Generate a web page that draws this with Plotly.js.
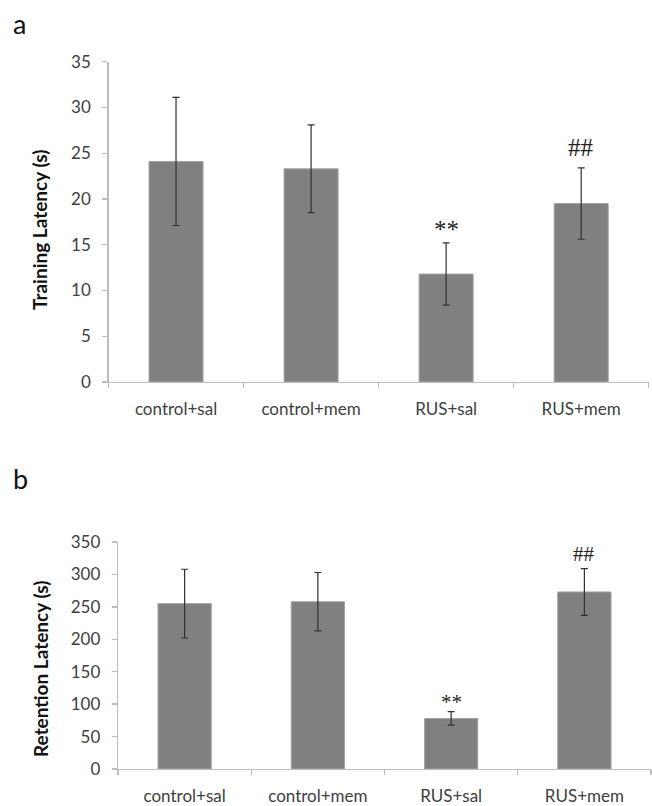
<!DOCTYPE html>
<html>
<head>
<meta charset="utf-8">
<script src="https://cdn.plot.ly/plotly-3.0.1.min.js"></script>
<style>html,body{margin:0;padding:0;background:#fff;}#chart{width:652px;height:806px;}</style>
</head>
<body>
<div id="chart"></div>
<script>
// ---- data ----
const categories = ['control+sal', 'control+mem', 'RUS+sal', 'RUS+mem'];
const trainingMean = [24.1, 23.3, 11.8, 19.5];
const trainingErr = [7.0, 4.8, 3.4, 3.9];
const retentionMean = [255, 258, 78, 273];
const retentionErr = [53, 45, 10.5, 36];
const trainingMarks = ['', '', '**', '##'];
const trainingMarkY = [null, null, 16.7, 25.6];
const retentionMarks = ['', '', '**', '##'];
const retentionMarkY = [null, null, 103, 331];
const trainingTicks = [0, 5, 10, 15, 20, 25, 30, 35];
const retentionTicks = [0, 50, 100, 150, 200, 250, 300, 350];

// ---- styling ----
const FONT = 'Lato, "Open Sans", sans-serif';
const barColor = '#808080';
const axisColor = '#bdbdbd';
const textColor = '#404040';

function barTrace(y, err, xa, ya) {
  return {
    type: 'bar', x: categories, y: y, xaxis: xa, yaxis: ya,
    marker: {color: barColor, line: {color: '#a5a5a5', width: 1}},
    error_y: {type: 'data', array: err, visible: true, color: '#303030', thickness: 1.2, width: 3.5},
    hoverinfo: 'skip', showlegend: false
  };
}

const data = [
  barTrace(trainingMean, trainingErr, 'x', 'y'),
  barTrace(retentionMean, retentionErr, 'x2', 'y2')
];

function xAxis(domain, anchor) {
  return {
    domain: domain, anchor: anchor, type: 'category', range: [-0.5, 3.5],
    showline: true, linecolor: axisColor, linewidth: 1.3,
    ticks: 'outside', tickson: 'boundaries', ticklen: 5, tickcolor: axisColor, tickwidth: 1.3,
    ticklabelstandoff: 11,
    tickfont: {family: FONT, size: 17, color: textColor},
    showgrid: false, zeroline: false, fixedrange: true
  };
}
function yAxis(domain, anchor, range, ticks) {
  return {
    domain: domain, anchor: anchor, range: range, tickmode: 'array', tickvals: ticks,
    showline: true, linecolor: axisColor, linewidth: 1.3,
    ticks: 'outside', ticklen: 5, tickcolor: axisColor, tickwidth: 1.3,
    ticklabelstandoff: 8,
    tickfont: {family: FONT, size: 17, color: textColor},
    showgrid: false, zeroline: false, fixedrange: true
  };
}

const annotations = [];
trainingMarks.forEach((m, i) => {
  if (m) annotations.push({x: categories[i], y: trainingMarkY[i], xref: 'x', yref: 'y', text: m,
    showarrow: false, font: {family: '"Liberation Serif", serif', size: 25, color: '#222'}, yanchor: 'middle'});
});
retentionMarks.forEach((m, i) => {
  if (m) annotations.push({x: categories[i], y: retentionMarkY[i], xref: 'x2', yref: 'y2', text: m,
    showarrow: false, font: {family: '"Liberation Serif", serif', size: 21, color: '#222'}, yanchor: 'middle'});
});
annotations.push(
  {text: 'a', xref: 'paper', yref: 'paper', x: 11 / 652, y: 1 - 24 / 806, xanchor: 'left', yanchor: 'middle',
   showarrow: false, font: {family: FONT, size: 27, color: '#111'}},
  {text: 'b', xref: 'paper', yref: 'paper', x: 11 / 652, y: 1 - 478 / 806, xanchor: 'left', yanchor: 'middle',
   showarrow: false, font: {family: FONT, size: 27, color: '#111'}},
  {text: '<b>Training Latency (s)</b>', xref: 'paper', yref: 'paper', x: 40 / 652, y: 1 - 230 / 806,
   xanchor: 'center', yanchor: 'middle', textangle: -90, showarrow: false,
   font: {family: FONT, size: 19, color: '#111'}},
  {text: '<b>Retention Latency (s)</b>', xref: 'paper', yref: 'paper', x: 40 / 652, y: 1 - 669 / 806,
   xanchor: 'center', yanchor: 'middle', textangle: -90, showarrow: false,
   font: {family: FONT, size: 19, color: '#111'}}
);

const layout = {
  width: 652, height: 806,
  margin: {l: 0, r: 0, t: 0, b: 0},
  paper_bgcolor: '#fff', plot_bgcolor: '#fff',
  bargap: 0.6,
  xaxis: xAxis([108.5 / 652, 648.7 / 652], 'y'),
  yaxis: yAxis([1 - 382 / 806, 1 - 61.7 / 806], 'x', [0, 35], trainingTicks),
  xaxis2: xAxis([118 / 652, 651 / 652], 'y2'),
  yaxis2: yAxis([1 - 769 / 806, 1 - 542 / 806], 'x2', [0, 350], retentionTicks),
  annotations: annotations,
  showlegend: false
};

Plotly.newPlot('chart', data, layout, {staticPlot: true, displayModeBar: false});
</script>
</body>
</html>
